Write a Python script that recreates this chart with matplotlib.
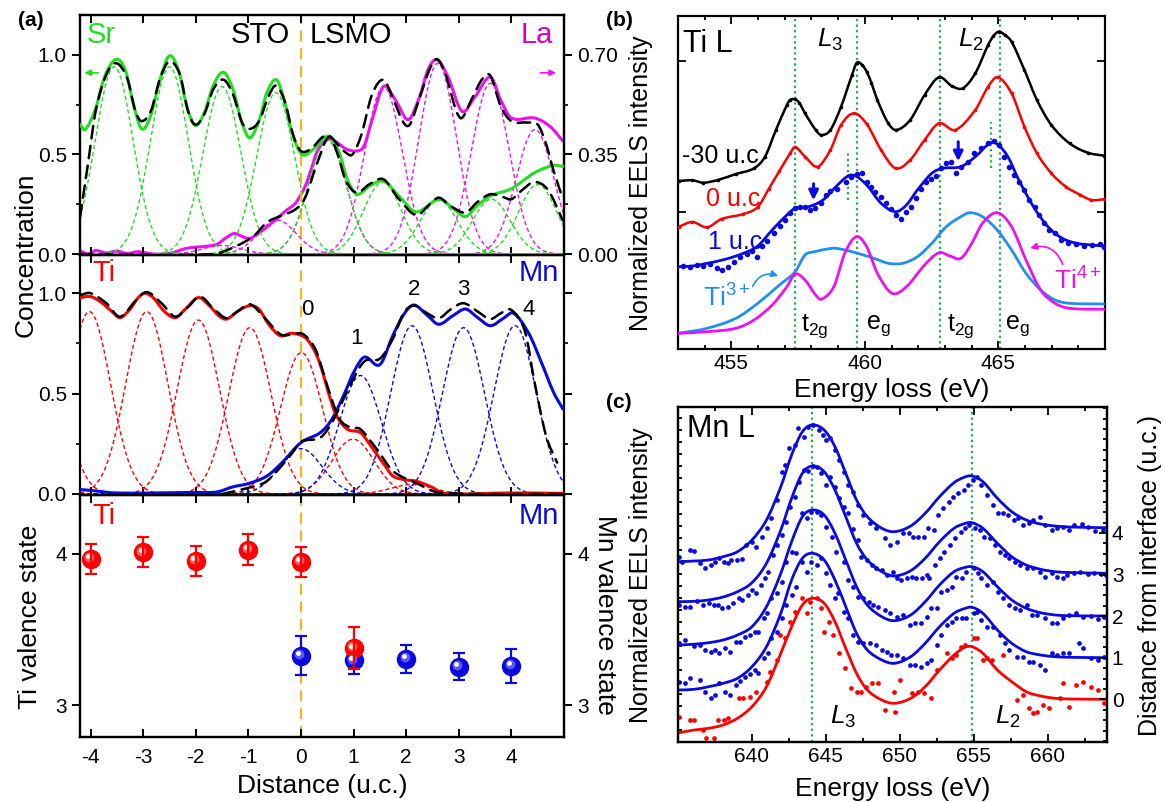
import numpy as np
import matplotlib
matplotlib.use('Agg')
import matplotlib.pyplot as plt
from matplotlib import transforms
from matplotlib.path import Path
from matplotlib.patches import FancyArrowPatch, PathPatch
from matplotlib.ticker import MultipleLocator, FixedLocator

plt.rcParams['font.family'] = ['Liberation Sans', 'DejaVu Sans']
plt.rcParams['axes.unicode_minus'] = False
plt.rcParams['mathtext.fontset'] = 'custom'
plt.rcParams['mathtext.rm'] = 'Liberation Sans'
plt.rcParams['mathtext.it'] = 'Liberation Sans:italic'
plt.rcParams['axes.linewidth'] = 1.6

GREEN = '#22dd22'
MAGENTA = '#ee11ee'
RED = '#ff0000'
BLUE = '#0a0ae0'
CYAN = '#1e90f0'
ORANGE = '#f8b323'
VLINE = '#1fae4f'

# ---- (a) top: Sr / La concentration profiles ----
dist_sr = [-4.2, -4.1, -3.91, -3.73, -3.51, -3.33, -3.19, -3.03, -2.86, -2.68, -2.5, -2.32, -2.17, -2.01, -1.84,
           -1.66, -1.47, -1.29, -1.12, -0.97, -0.79, -0.65, -0.47, -0.32, -0.17, 0.02, 0.23, 0.53, 0.73, 0.88,
           1.06, 1.31, 1.57, 1.86, 2.19, 2.62, 2.91, 3.13, 3.35, 3.6, 4.0, 4.44, 4.8, 4.98]
sr_conc = [0.65, 0.625, 0.725, 0.892, 0.978, 0.917, 0.758, 0.628, 0.692, 0.875, 0.995, 0.917, 0.742, 0.645, 0.708,
           0.85, 0.912, 0.825, 0.658, 0.583, 0.675, 0.808, 0.875, 0.775, 0.608, 0.5, 0.525, 0.592, 0.508, 0.375,
           0.30, 0.342, 0.367, 0.292, 0.212, 0.275, 0.225, 0.188, 0.242, 0.292, 0.328, 0.408, 0.445, 0.44]

dist_la = [-4.2, -4.05, -3.9, -3.7, -3.5, -3.3, -3.1, -2.8, -2.5, -2.17, -1.77, -1.59, -1.4, -1.26, -1.1,
           -0.97, -0.75, -0.5, -0.3, -0.1, 0.08, 0.2, 0.3, 0.42, 0.55, 0.7, 0.85, 1.06, 1.2, 1.35,
           1.57, 1.8, 2.04, 2.25, 2.42, 2.59, 2.8, 3.06, 3.3, 3.6, 3.8, 4.0, 4.44, 4.73, 4.98]
la_conc = [0.012, 0.0, 0.012, 0.004, 0.010, 0.002, 0.008, 0.0, 0.002, 0.02, 0.028, 0.035, 0.06, 0.072, 0.06,
           0.055, 0.08, 0.117, 0.15, 0.18, 0.238, 0.30, 0.357, 0.39, 0.405, 0.39, 0.37, 0.362, 0.38, 0.47,
           0.589, 0.54, 0.472, 0.55, 0.65, 0.683, 0.62, 0.502, 0.55, 0.622, 0.54, 0.478, 0.478, 0.449, 0.397]

dist_fit_hi = [-4.2, -4.05, -3.9, -3.7, -3.51, -3.3, -3.15, -3.03, -2.85, -2.68, -2.5, -2.3, -2.15, -2.01, -1.84,
               -1.66, -1.47, -1.29, -1.12, -0.97, -0.79, -0.62, -0.47, -0.3, -0.15, 0.0, 0.2, 0.4, 0.53, 0.7,
               0.85, 0.98, 1.15, 1.35, 1.57, 1.75, 1.95, 2.07, 2.25, 2.45, 2.59, 2.75, 2.95, 3.06, 3.25,
               3.45, 3.6, 3.8, 4.0, 4.3, 4.5, 4.65, 4.8, 4.98]
fit_hi = [0.183, 0.45, 0.72, 0.9, 0.958, 0.88, 0.72, 0.667, 0.72, 0.88, 0.967, 0.9, 0.72, 0.65, 0.70,
          0.83, 0.875, 0.80, 0.66, 0.628, 0.67, 0.79, 0.845, 0.76, 0.6, 0.517, 0.53, 0.585, 0.595, 0.55,
          0.51, 0.50, 0.6, 0.8, 0.875, 0.78, 0.66, 0.65, 0.78, 0.93, 0.978, 0.9, 0.72, 0.683, 0.78,
          0.88, 0.895, 0.74, 0.667, 0.66, 0.65, 0.56, 0.42, 0.275]
dist_fit_lo = [-4.2, -1.66, -1.23, -0.9, -0.65, -0.4, -0.1, 0.08, 0.3, 0.53, 0.7, 0.85, 1.06, 1.3, 1.57,
               1.85, 2.19, 2.45, 2.62, 2.85, 3.13, 3.35, 3.6, 3.85, 4.0, 4.2, 4.44, 4.7, 4.98]
fit_lo = [0.0, 0.0, 0.04, 0.09, 0.158, 0.19, 0.225, 0.283, 0.45, 0.588, 0.50, 0.37, 0.308, 0.35, 0.375,
          0.28, 0.195, 0.25, 0.283, 0.24, 0.208, 0.26, 0.30, 0.285, 0.275, 0.32, 0.362, 0.32, 0.167]

# gaussian components per unit cell: centre (u.c.), height
sr_peak_pos = [-3.55, -2.5, -1.5, -0.48, 0.5, 1.55, 2.62, 3.62, 4.5]
sr_peak_amp = [0.94, 0.94, 0.84, 0.81, 0.575, 0.36, 0.27, 0.275, 0.35]
la_peak_pos = [-1.5, -0.45, 0.5, 1.57, 2.6, 3.6, 4.45]
la_peak_amp = [0.03, 0.119, 0.40, 0.588, 0.67, 0.60, 0.4375]
width_top = 0.36

# ---- (a) middle: Ti / Mn ----
dist_ti_prof = [-4.2, -4.0, -3.8, -3.6, -3.44, -3.25, -3.1, -2.97, -2.8, -2.6, -2.39, -2.2, -1.95, -1.75, -1.55,
                -1.41, -1.2, -0.97, -0.8, -0.6, -0.39, -0.2, -0.03, 0.1, 0.2, 0.3, 0.42, 0.52, 0.66, 0.88,
                1.13, 1.3, 1.42, 1.6, 1.75, 2.0, 2.19, 2.48, 2.69, 3.0, 4.0, 4.98]
ti_conc = [0.978, 0.983, 0.955, 0.91, 0.878, 0.92, 0.975, 1.0, 0.975, 0.91, 0.878, 0.92, 0.978, 0.94, 0.885,
           0.871, 0.91, 0.938, 0.92, 0.84, 0.788, 0.80, 0.793, 0.775, 0.74, 0.69, 0.60, 0.507, 0.398, 0.323,
           0.306, 0.25, 0.206, 0.14, 0.089, 0.07, 0.064, 0.035, 0.005, 0.0, 0.005, 0.003]
dist_mn_prof = [-4.2, -4.0, -3.5, -2.0, -1.6, -1.3, -1.0, -0.65, -0.36, 0.0, 0.37, 0.59, 0.81, 1.02, 1.21,
                1.5, 1.75, 1.97, 2.15, 2.4, 2.62, 2.9, 3.13, 3.35, 3.6, 3.85, 4.04, 4.33, 4.58, 4.8, 4.98]
mn_conc = [0.022, 0.018, 0.005, 0.008, 0.01, 0.035, 0.052, 0.089, 0.156, 0.256, 0.306, 0.373, 0.49, 0.615, 0.682,
           0.644, 0.791, 0.9, 0.941, 0.89, 0.845, 0.89, 0.921, 0.88, 0.838, 0.875, 0.9, 0.8, 0.649, 0.507, 0.423]

dist_fit_ti = [-4.2, -4.0, -3.7, -3.44, -3.15, -2.93, -2.65, -2.39, -2.15, -1.92, -1.65, -1.41, -1.2, -0.97, -0.7,
               -0.39, -0.15, 0.01, 0.15, 0.3, 0.52, 0.73, 0.95, 1.13, 1.45, 1.75, 2.19, 2.62, 4.98]
fit_ti = [0.99, 1.0, 0.95, 0.883, 0.96, 1.005, 0.95, 0.883, 0.93, 0.983, 0.92, 0.875, 0.91, 0.945, 0.88,
          0.795, 0.795, 0.80, 0.77, 0.706, 0.523, 0.375, 0.33, 0.323, 0.22, 0.114, 0.055, 0.008, 0.0]
dist_fit_mn = [-1.5, -1.01, -0.65, -0.21, 0.0, 0.37, 0.59, 0.81, 1.1, 1.24, 1.5, 1.75, 1.95, 2.15, 2.4,
               2.62, 2.85, 3.09, 3.35, 3.6, 3.8, 4.0, 4.26, 4.44, 4.66, 4.87]
fit_mn = [0.0, 0.03, 0.064, 0.189, 0.259, 0.281, 0.356, 0.473, 0.624, 0.666, 0.674, 0.774, 0.9, 0.938, 0.9,
          0.875, 0.92, 0.95, 0.91, 0.871, 0.9, 0.916, 0.808, 0.557, 0.289, 0.156]

ti_peak_pos = [-4.95, -4.02, -2.93, -1.95, -0.97, 0.01, 0.99, 2.11]
ti_peak_amp = [0.9, 0.908, 0.908, 0.866, 0.828, 0.704, 0.273, 0.047]
mn_peak_pos = [0.0, 1.13, 2.11, 3.09, 4.07]
mn_peak_amp = [0.226, 0.59, 0.838, 0.828, 0.838]
width_mid = 0.4

# ---- (a) bottom: valence states ----
ti_uc = [-4, -3, -2, -1, 0, 1]
ti_valence = [3.967, 4.011, 3.956, 4.029, 3.949, 3.378]
ti_err = [0.10, 0.10, 0.10, 0.10, 0.10, 0.14]
mn_uc = [0, 1, 2, 3, 4]
mn_valence = [3.327, 3.296, 3.307, 3.256, 3.26]
mn_err = [0.13, 0.09, 0.093, 0.09, 0.11]

# ---- (b) Ti L edge ----
ti_e_black = [453.03, 453.54, 453.95, 454.49, 455.17, 455.85, 456.26, 456.67, 457.08, 457.2, 457.39, 457.55, 457.76,
              458.16, 458.37, 458.71, 459.11, 459.52, 459.7, 459.9, 460.07, 460.25, 460.47, 460.88, 461.18, 461.7,
              462.24, 462.78, 463.26, 463.67, 464.14, 464.62, 464.82, 465.02, 465.25, 465.5, 465.98, 466.45,
              466.99, 467.67, 468.35, 468.96]
ti_black = [1.68, 1.687, 1.663, 1.69, 1.75, 1.807, 1.923, 2.19, 2.44, 2.49, 2.497, 2.46, 2.357,
            2.19, 2.14, 2.19, 2.423, 2.74, 2.863, 2.84, 2.773, 2.66, 2.49, 2.257, 2.19, 2.29,
            2.54, 2.717, 2.63, 2.607, 2.757, 3.04, 3.13, 3.173, 3.14, 3.073, 2.79, 2.49,
            2.24, 2.057, 1.963, 1.933]
ti_e_red = [453.03, 453.54, 454.09, 454.63, 455.45, 455.99, 456.4, 456.8, 457.21, 457.39, 457.76, 458.23, 458.71,
            459.11, 459.59, 460.07, 460.61, 461.15, 461.7, 462.24, 462.78, 463.39, 464.14, 464.62, 464.98, 465.5,
            465.98, 466.45, 466.99, 467.53, 468.08, 468.49, 468.96]
ti_red = [1.223, 1.27, 1.217, 1.30, 1.35, 1.42, 1.6, 1.78, 1.96, 2.02, 1.923, 1.823, 1.99,
          2.24, 2.357, 2.25, 1.99, 1.807, 1.89, 2.09, 2.257, 2.19, 2.39, 2.623, 2.717, 2.557,
          2.223, 1.957, 1.757, 1.623, 1.54, 1.49, 1.497]
ti_e_blue = [453.03, 453.54, 454.09, 454.77, 455.45, 455.99, 456.53, 457.08, 457.39, 457.89, 458.43, 458.98, 459.39,
             459.66, 460.07, 460.61, 461.15, 461.56, 461.97, 462.51, 462.92, 463.6, 464.14, 464.68, 464.96, 465.36,
             465.77, 466.32, 466.86, 467.4, 467.94, 468.49, 468.96]
ti_blue = [0.823, 0.83, 0.857, 0.897, 0.957, 1.03, 1.19, 1.34, 1.407, 1.423, 1.49, 1.64, 1.733,
           1.73, 1.64, 1.457, 1.373, 1.44, 1.59, 1.757, 1.807, 1.823, 1.923, 2.057, 2.05, 1.923,
           1.69, 1.423, 1.223, 1.107, 1.057, 1.04, 1.03]
ti_e_blue_pts = [453.2, 453.45, 453.7, 453.95, 454.2, 454.45, 454.64, 454.89, 455.08, 455.33, 455.58, 455.77, 455.96,
                 456.15, 456.33, 456.58, 456.83, 457.02, 457.21, 457.4, 457.59, 457.77, 457.96, 458.15, 458.34,
                 458.53, 458.71, 458.96, 459.28, 459.47, 459.72, 459.9, 460.09, 460.22, 460.4, 460.59, 460.78,
                 460.97, 461.16, 461.34, 461.53, 461.72, 461.91, 462.1, 462.28, 462.47, 462.66, 462.85, 463.04,
                 463.22, 463.41, 463.6, 463.85, 464.1, 464.35, 464.6, 464.85, 465.04, 465.23, 465.42, 465.6,
                 465.79, 465.98, 466.17, 466.36, 466.54, 466.73, 466.92, 467.11, 467.36, 467.61, 467.9, 468.2,
                 468.5, 468.8, 468.98]
ti_blue_pts = [0.833, 0.823, 0.84, 0.83, 0.85, 0.807, 0.79, 0.823, 0.873, 0.917, 0.95, 0.983, 0.923,
               1.03, 1.083, 1.157, 1.23, 1.29, 1.357, 1.407, 1.417, 1.417, 1.39, 1.407, 1.463,
               1.54, 1.583, 1.597, 1.673, 1.723, 1.75, 1.763, 1.673, 1.623, 1.573, 1.517, 1.457,
               1.397, 1.34, 1.297, 1.373, 1.417, 1.507, 1.597, 1.673, 1.697, 1.73, 1.807, 1.857,
               1.873, 1.757, 1.823, 1.873, 1.957, 2.007, 2.057, 2.083, 2.04, 1.923, 1.823, 1.74,
               1.673, 1.59, 1.49, 1.423, 1.34, 1.257, 1.19, 1.157, 1.09, 1.057, 1.05, 1.03,
               1.04, 1.05, 1.02]
ti3_e = [453.03, 454.09, 455.17, 455.99, 456.8, 457.39, 457.76, 458.16, 458.6, 458.91, 459.52, 460.34, 460.88,
         461.42, 461.97, 462.51, 463.05, 463.6, 463.94, 464.41, 464.96, 465.5, 466.04, 466.59, 467.13, 467.67,
         468.96]
ti3_ref = [0.157, 0.207, 0.307, 0.457, 0.64, 0.773, 0.94, 0.975, 1.0, 1.007, 0.973, 0.907, 0.857,
           0.857, 0.923, 1.057, 1.223, 1.323, 1.363, 1.323, 1.19, 0.99, 0.757, 0.59, 0.49, 0.457,
           0.45]
ti4_e = [453.03, 454.09, 455.17, 455.85, 456.53, 457.08, 457.39, 457.76, 458.16, 458.37, 458.84, 459.25, 459.68,
         460.07, 460.47, 461.02, 461.56, 462.24, 462.78, 463.19, 463.6, 464.01, 464.41, 464.96, 465.5, 466.04,
         466.59, 467.13, 467.67, 468.96]
ti4_ref = [0.157, 0.173, 0.207, 0.29, 0.44, 0.623, 0.75, 0.69, 0.54, 0.497, 0.623, 0.957, 1.123,
           1.023, 0.757, 0.557, 0.623, 0.84, 0.963, 0.93, 0.907, 1.057, 1.257, 1.363, 1.223, 0.89,
           0.59, 0.457, 0.407, 0.397]

# ---- (c) Mn L edge, fits for 0..4 u.c. ----
mn_e = [635.07, 636.1, 637.07, 638.05, 639.02, 640.0, 640.98, 641.95, 642.68, 643.41, 644.08, 644.88, 645.61,
        646.34, 647.07, 647.8, 648.78, 649.63, 650.73, 651.71, 652.68, 653.66, 654.39, 654.88, 655.61, 656.59,
        657.56, 658.54, 659.51, 660.49, 661.46, 664.0]
mn_fit_0 = [0.093, 0.12, 0.137, 0.17, 0.237, 0.353, 0.553, 0.887, 1.153, 1.37, 1.437, 1.387, 1.203,
            0.937, 0.687, 0.52, 0.42, 0.387, 0.437, 0.553, 0.72, 0.87, 0.947, 0.953, 0.887, 0.72,
            0.603, 0.503, 0.46, 0.437, 0.43, 0.427]
mn_fit_1 = [0.52, 0.527, 0.553, 0.587, 0.637, 0.753, 0.953, 1.287, 1.62, 1.837, 1.887, 1.82, 1.62,
            1.353, 1.087, 0.92, 0.82, 0.787, 0.853, 0.987, 1.153, 1.287, 1.335, 1.347, 1.287, 1.12,
            0.987, 0.903, 0.87, 0.853, 0.847, 0.843]
mn_fit_2 = [0.97, 0.978, 0.993, 1.02, 1.07, 1.153, 1.353, 1.687, 2.003, 2.253, 2.32, 2.27, 2.087,
            1.82, 1.553, 1.37, 1.253, 1.213, 1.27, 1.403, 1.57, 1.703, 1.745, 1.753, 1.703, 1.553,
            1.42, 1.337, 1.293, 1.27, 1.263, 1.26]
mn_fit_3 = [1.403, 1.407, 1.42, 1.45, 1.503, 1.593, 1.787, 2.12, 2.437, 2.687, 2.76, 2.703, 2.52,
            2.253, 1.987, 1.82, 1.703, 1.66, 1.713, 1.837, 2.003, 2.137, 2.185, 2.193, 2.137, 1.987,
            1.853, 1.77, 1.727, 1.703, 1.695, 1.687]
mn_fit_4 = [1.803, 1.81, 1.82, 1.853, 1.903, 2.02, 2.22, 2.553, 2.87, 3.103, 3.17, 3.12, 2.953,
            2.687, 2.42, 2.253, 2.137, 2.103, 2.16, 2.287, 2.453, 2.593, 2.65, 2.66, 2.603, 2.437,
            2.303, 2.22, 2.18, 2.16, 2.15, 2.143]

dots_e_0 = [635.1, 635.8, 636.1, 636.7, 636.9, 637.4, 637.7, 638.1, 638.4, 639.1, 639.4, 639.9, 640.3, 641.0,
            641.2, 641.7, 641.9, 642.2, 642.6, 642.9, 643.4, 643.7, 643.9, 644.4, 644.7, 644.9, 645.2, 645.5,
            645.9, 646.3, 646.7, 647.1, 647.4, 647.7, 648.1, 648.5, 649.0, 649.6, 649.7, 650.0, 650.8, 651.2,
            651.6, 652.1, 652.5, 653.2, 653.5, 653.8, 654.1, 654.4, 655.0, 655.2, 655.6, 655.9, 656.2, 657.0,
            657.9, 658.3, 658.7, 659.0, 659.3, 659.7, 660.1, 660.8, 661.0, 661.4, 661.9, 662.4, 662.9, 663.4,
            663.8]
dots_0 = [0.253, 0.22, 0.22, 0.12, 0.037, 0.037, 0.22, 0.22, 0.237, 0.437, 0.437, 0.453, 0.503, 0.603,
          0.703, 0.82, 1.07, 1.037, 1.203, 1.303, 1.437, 1.287, 1.403, 1.437, 1.337, 1.103, 1.203, 1.07,
          0.887, 0.737, 0.537, 0.503, 0.503, 0.553, 0.587, 0.587, 0.32, 0.503, 0.303, 0.62, 0.487, 0.503,
          0.487, 0.437, 0.72, 0.887, 0.837, 0.87, 0.953, 0.97, 1.037, 1.037, 0.82, 0.837, 0.82, 0.87,
          0.42, 0.47, 0.337, 0.287, 0.303, 0.37, 0.337, 0.437, 0.587, 0.353, 0.57, 0.603, 0.553, 0.52,
          0.387]
dots_e_1 = [635.1, 635.5, 635.8, 636.5, 636.8, 637.2, 637.5, 637.8, 638.2, 638.5, 638.9, 639.2, 639.5, 639.9,
            640.2, 640.4, 640.8, 641.1, 641.3, 641.7, 642.0, 642.3, 642.7, 643.0, 643.4, 643.7, 644.0, 644.4,
            644.7, 645.0, 645.3, 645.6, 645.8, 646.2, 646.5, 646.8, 647.2, 647.5, 648.0, 648.4, 648.8, 649.1,
            649.4, 649.8, 650.2, 650.7, 651.0, 651.4, 651.8, 652.1, 652.5, 652.8, 653.2, 653.5, 653.8, 654.2,
            654.5, 655.0, 655.2, 655.5, 655.9, 656.3, 656.8, 657.1, 657.4, 657.9, 658.3, 658.7, 659.0, 659.5,
            659.8, 660.3, 660.6, 661.0, 661.4, 662.1, 662.4, 662.9, 663.4, 663.8]
dots_1 = [0.603, 0.587, 0.637, 0.62, 0.503, 0.437, 0.47, 0.587, 0.503, 0.47, 0.57, 0.61, 0.653, 0.677,
          0.72, 0.687, 0.837, 0.887, 1.037, 1.103, 1.237, 1.37, 1.47, 1.553, 1.803, 1.703, 1.803, 1.77,
          1.837, 1.687, 1.57, 1.437, 1.487, 1.303, 1.237, 1.07, 1.003, 0.987, 0.987, 0.97, 0.92, 0.903,
          0.87, 0.87, 0.837, 0.77, 0.77, 0.753, 0.787, 0.82, 0.97, 1.07, 1.17, 1.203, 1.237, 1.237,
          1.237, 1.287, 1.303, 1.22, 1.153, 1.153, 1.07, 0.987, 0.92, 0.853, 0.853, 0.803, 0.803, 0.77,
          0.72, 0.887, 0.87, 0.887, 0.887, 0.987, 0.937, 0.837, 0.82, 0.853]
dots_e_2 = [635.1, 635.5, 636.1, 636.5, 636.8, 637.2, 637.5, 637.8, 638.2, 638.5, 638.9, 639.2, 639.5, 639.9,
            640.2, 640.4, 640.8, 641.0, 641.3, 641.7, 642.0, 642.3, 642.7, 643.0, 643.4, 643.7, 644.0, 644.4,
            644.7, 645.0, 645.4, 645.7, 646.2, 646.5, 646.8, 647.2, 647.5, 647.9, 648.2, 648.5, 649.0, 649.3,
            649.8, 650.2, 650.7, 651.0, 651.4, 651.8, 652.1, 652.5, 652.8, 653.2, 653.5, 653.8, 654.2, 654.5,
            655.0, 655.3, 655.5, 655.9, 656.3, 656.6, 657.0, 657.4, 657.8, 658.1, 658.6, 658.9, 659.3, 659.8,
            660.3, 660.6, 661.0, 661.4, 661.9, 662.4, 662.9, 663.4, 663.8]
dots_2 = [0.987, 1.02, 0.963, 0.97, 0.92, 0.903, 0.92, 0.887, 0.937, 0.903, 0.997, 1.003, 1.053, 1.07,
          1.103, 1.103, 1.237, 1.287, 1.437, 1.487, 1.603, 1.803, 1.903, 1.887, 2.287, 2.237, 2.303, 2.303,
          2.27, 2.153, 2.053, 1.903, 1.803, 1.62, 1.553, 1.453, 1.437, 1.403, 1.37, 1.353, 1.32, 1.287,
          1.253, 1.27, 1.17, 1.187, 1.187, 1.253, 1.337, 1.337, 1.503, 1.52, 1.553, 1.653, 1.637, 1.703,
          1.737, 1.687, 1.637, 1.57, 1.603, 1.503, 1.437, 1.37, 1.337, 1.32, 1.37, 1.27, 1.27, 1.237,
          1.187, 1.187, 1.237, 1.27, 1.29, 1.25, 1.26, 1.23, 1.25]
dots_e_3 = [635.1, 635.5, 635.8, 636.3, 636.7, 637.1, 637.4, 637.7, 638.0, 638.4, 638.7, 639.1, 639.3, 639.7,
            640.0, 640.3, 640.6, 640.9, 641.1, 641.4, 641.7, 642.0, 642.3, 642.6, 642.9, 643.2, 643.5, 643.8,
            644.1, 644.4, 644.7, 645.0, 645.3, 645.6, 645.9, 646.2, 646.5, 646.8, 647.2, 647.4, 647.75, 648.1,
            648.4, 648.8, 649.1, 649.55, 649.8, 650.1, 650.45, 650.8, 651.1, 651.5, 651.8, 652.0, 652.4, 652.7,
            653.0, 653.4, 653.7, 654.1, 654.4, 654.7, 655.1, 655.4, 655.7, 656.1, 656.4, 656.8, 657.1, 657.4,
            657.8, 658.1, 658.6, 659.0, 659.5, 659.8, 660.3, 660.6, 661.0, 661.3, 661.8, 662.2, 662.7, 663.1,
            663.6, 663.9]
dots_3 = [1.37, 1.355, 1.355, 1.41, 1.37, 1.387, 1.37, 1.37, 1.337, 1.353, 1.387, 1.437, 1.42, 1.47,
          1.52, 1.487, 1.57, 1.637, 1.703, 1.87, 1.97, 2.07, 2.2, 2.35, 2.45, 2.6, 2.72, 2.71,
          2.76, 2.753, 2.687, 2.57, 2.653, 2.553, 2.437, 2.353, 2.287, 2.13, 2.02, 1.853, 1.82, 1.77,
          1.737, 1.72, 1.67, 1.703, 1.637, 1.62, 1.637, 1.653, 1.637, 1.643, 1.67, 1.637, 1.77, 1.837,
          1.903, 1.97, 2.037, 2.103, 2.137, 2.17, 2.137, 2.12, 2.053, 2.037, 1.97, 1.903, 1.87, 1.837,
          1.803, 1.77, 1.737, 1.737, 1.703, 1.653, 1.687, 1.653, 1.637, 1.67, 1.69, 1.70, 1.68, 1.69,
          1.68, 1.67]
dots_e_4 = [635.1, 635.3, 635.8, 636.1, 636.5, 636.8, 637.2, 637.5, 637.8, 638.1, 638.4, 638.6, 639.0, 639.3,
            639.6, 640.0, 640.3, 640.7, 641.0, 641.3, 641.7, 642.0, 642.2, 642.5, 642.9, 643.1, 643.5, 643.8,
            644.1, 644.5, 644.8, 645.0, 645.3, 645.6, 645.9, 646.2, 646.5, 646.8, 647.2, 647.5, 648.0, 648.4,
            649.0, 649.3, 649.8, 650.2, 650.6, 650.9, 651.2, 651.6, 651.9, 652.3, 652.6, 652.9, 653.3, 653.6,
            653.9, 654.3, 654.6, 654.96, 655.2, 655.5, 655.9, 656.3, 656.6, 657.0, 657.3, 657.7, 658.0, 658.3,
            658.7, 659.0, 659.5, 659.8, 660.3, 660.6, 661.0, 661.4, 661.8, 662.3, 662.7, 663.2, 663.7]
dots_4 = [1.853, 1.803, 1.92, 1.91, 1.787, 1.737, 1.77, 1.803, 1.837, 1.803, 1.787, 1.82, 1.82, 1.83,
          1.97, 1.997, 1.953, 2.053, 2.137, 2.237, 2.42, 2.70, 2.77, 2.937, 2.97, 3.137, 3.053, 3.153,
          3.17, 3.12, 3.07, 3.02, 3.037, 2.92, 2.82, 2.703, 2.57, 2.503, 2.37, 2.27, 2.187, 2.137,
          2.037, 1.97, 2.003, 2.087, 2.087, 2.053, 2.053, 2.053, 2.137, 2.12, 2.27, 2.337, 2.403, 2.453,
          2.487, 2.52, 2.57, 2.62, 2.653, 2.57, 2.47, 2.37, 2.287, 2.287, 2.27, 2.22, 2.237, 2.17,
          2.187, 2.22, 2.253, 2.17, 2.12, 2.137, 2.153, 2.12, 2.17, 2.18, 2.15, 2.11, 2.12]
mn_layers = [0, 1, 2, 3, 4]
mn_baseline = [0.427, 0.843, 1.26, 1.687, 2.143]


def gauss(x, c, a, w):
    return a * np.exp(-(x - c) ** 2 / (2 * w ** 2))


def smooth_line(ax, x, y, color, lw, ls='-', zorder=3):
    # cubic Hermite segments through the listed points (the curve passes through every point)
    x = np.asarray(x, float)
    y = np.asarray(y, float)
    n = len(x)
    m = np.empty(n)
    m[1:-1] = (y[2:] - y[:-2]) / (x[2:] - x[:-2])
    m[0] = (y[1] - y[0]) / (x[1] - x[0])
    m[-1] = (y[-1] - y[-2]) / (x[-1] - x[-2])
    verts = [(x[0], y[0])]
    codes = [Path.MOVETO]
    for i in range(n - 1):
        d = (x[i + 1] - x[i]) / 3
        verts += [(x[i] + d, y[i] + m[i] * d), (x[i + 1] - d, y[i + 1] - m[i + 1] * d), (x[i + 1], y[i + 1])]
        codes += [Path.CURVE4] * 3
    ax.add_patch(PathPatch(Path(verts, codes), fill=False, edgecolor=color, lw=lw, ls=ls,
                           capstyle='round', joinstyle='round', zorder=zorder))


def sphere(ax, x, y, color, shade):
    ax.plot(x, y, 'o', ms=13, color=color, mec=color, zorder=5)
    off1 = transforms.offset_copy(ax.transData, fig=ax.figure, x=-1.2, y=1.2, units='points')
    ax.plot(x, y, 'o', ms=7, color=shade, mec='none', alpha=0.8, transform=off1, zorder=6)
    off2 = transforms.offset_copy(ax.transData, fig=ax.figure, x=-1.8, y=1.8, units='points')
    ax.plot(x, y, 'o', ms=3.5, color='white', mec='none', transform=off2, zorder=7)


W, H = 1165, 802
fig = plt.figure(figsize=(W / 100, H / 100), dpi=100)


def px_axes(l, t, r, b):
    return fig.add_axes([l / W, 1 - b / H, (r - l) / W, (b - t) / H])


ax1 = px_axes(80, 15, 564, 255)
ax2 = px_axes(80, 255, 564, 495)
ax3 = px_axes(80, 495, 564, 737)
axb = px_axes(678, 16, 1105, 349)
axc = px_axes(678, 407, 1107, 742)

TS = 15
xs = np.linspace(-4.2, 5.0, 500)
dash_thin = (0, (3, 2))
dash_fit = (0, (5, 3))

# ---------- (a) top ----------
ax1r = ax1.twinx()
ax1.set_zorder(ax1r.get_zorder() + 1)
ax1.patch.set_visible(False)
for c, a in zip(la_peak_pos, la_peak_amp):
    ax1r.plot(xs, gauss(xs, c, a, width_top), color=MAGENTA, lw=1.0, ls=dash_thin)
smooth_line(ax1r, dist_la, la_conc, MAGENTA, 2.2)
for c, a in zip(sr_peak_pos, sr_peak_amp):
    ax1.plot(xs, gauss(xs, c, a, width_top), color=GREEN, lw=1.0, ls=dash_thin)
smooth_line(ax1, dist_sr, sr_conc, GREEN, 2.2)
smooth_line(ax1, dist_fit_hi, fit_hi, 'k', 1.8, dash_fit, 4)
smooth_line(ax1, dist_fit_lo, fit_lo, 'k', 1.8, dash_fit, 4)
ax1.set_ylim(-0.005, 1.2)
ax1r.set_ylim(-0.005 * 0.7, 1.2 * 0.7)
ax1.set_yticks([0, 0.5, 1.0], ['0.0', '0.5', '1.0'])
ax1.yaxis.set_minor_locator(FixedLocator([0.25, 0.75]))
ax1r.set_yticks([0, 0.35, 0.70], ['0.00', '0.35', '0.70'])
ax1r.yaxis.set_minor_locator(FixedLocator([0.175, 0.525]))
ax1.text(-4.08, 1.1, 'Sr', color=GREEN, fontsize=21, va='center')
ax1.text(-0.2, 1.1, 'STO', color='k', fontsize=21, va='center', ha='right')
ax1.text(0.17, 1.1, 'LSMO', color='k', fontsize=21, va='center', ha='left')
ax1.text(4.8, 1.1, 'La', color='#d600c8', fontsize=21, va='center', ha='right')
ax1.annotate('', xy=(-4.17, 0.91), xytext=(-3.8, 0.91),
             arrowprops=dict(arrowstyle='-|>', color=GREEN, lw=1.2, mutation_scale=9))
ax1.annotate('', xy=(4.9, 0.91), xytext=(4.5, 0.91),
             arrowprops=dict(arrowstyle='-|>', color=MAGENTA, lw=1.2, mutation_scale=9))

# ---------- (a) middle ----------
for c, a in zip(ti_peak_pos, ti_peak_amp):
    ax2.plot(xs, gauss(xs, c, a, width_mid), color=RED, lw=1.0, ls=dash_thin)
for c, a in zip(mn_peak_pos, mn_peak_amp):
    ax2.plot(xs, gauss(xs, c, a, width_mid), color=BLUE, lw=1.0, ls=dash_thin)
smooth_line(ax2, dist_mn_prof, mn_conc, BLUE, 2.2)
smooth_line(ax2, dist_ti_prof, ti_conc, RED, 2.2)
smooth_line(ax2, dist_fit_ti, fit_ti, 'k', 1.8, dash_fit, 4)
smooth_line(ax2, dist_fit_mn, fit_mn, 'k', 1.8, dash_fit, 4)
ax2.set_ylim(-0.005, 1.19)
ax2.set_yticks([0, 0.5, 1.0], ['0.0', '0.5', '1.0'])
ax2.yaxis.set_minor_locator(FixedLocator([0.25, 0.75]))
ax2.tick_params(axis='y', which='both', right=True)
ax2.text(-3.97, 1.1, 'Ti', color=RED, fontsize=21, va='center')
ax2.text(4.9, 1.1, 'Mn', color=BLUE, fontsize=21, va='center', ha='right')
for lab, lx, ly in zip(['0', '1', '2', '3', '4'], [0.12, 1.06, 2.15, 3.09, 4.33],
                       [0.917, 0.774, 1.017, 1.017, 0.917]):
    ax2.text(lx, ly, lab, fontsize=16, ha='center', va='center')

# ---------- (a) bottom ----------
ax3r = ax3.twinx()
ax3.set_zorder(ax3r.get_zorder() + 1)
ax3.patch.set_visible(False)
ax3.errorbar(mn_uc, mn_valence, yerr=mn_err, fmt='none', ecolor=BLUE, elinewidth=1.6, capsize=4, capthick=1.6,
             zorder=4)
sphere(ax3, mn_uc, mn_valence, BLUE, '#6f6ff5')
ax3.errorbar(ti_uc, ti_valence, yerr=ti_err, fmt='none', ecolor=RED, elinewidth=1.6, capsize=4, capthick=1.6,
             zorder=8)
for xv, yv in zip(ti_uc, ti_valence):
    sphere(ax3, [xv], [yv], RED, '#ff7a7a')
ax3.set_ylim(2.79, 4.39)
ax3r.set_ylim(2.79, 4.39)
ax3.set_yticks([3, 4], ['3', '4'])
ax3r.set_yticks([3, 4], ['3', '4'])
ax3.text(-3.97, 4.25, 'Ti', color=RED, fontsize=21, va='center')
ax3.text(4.9, 4.25, 'Mn', color=BLUE, fontsize=21, va='center', ha='right')
ax3.set_xlabel('Distance (u.c.)', fontsize=19, labelpad=5)

for ax in (ax1, ax2, ax3):
    ax.axvline(0, color=ORANGE, lw=1.6, ls=(0, (5, 3)), zorder=1)
    ax.set_xlim(-4.2, 5.0)
    ax.set_xticks(range(-4, 5))
    ax.tick_params(axis='x', direction='in', top=True, bottom=True, length=6, width=1.4, pad=8)
    ax.tick_params(axis='y', which='major', direction='out', length=6, width=1.4, labelsize=TS)
    ax.tick_params(axis='y', which='minor', direction='out', length=3, width=1.2)
for ax in (ax1r, ax3r):
    ax.tick_params(axis='y', which='major', direction='out', length=6, width=1.4, labelsize=TS)
    ax.tick_params(axis='y', which='minor', direction='out', length=3, width=1.2)
ax1.tick_params(axis='x', labelbottom=False)
ax2.tick_params(axis='x', labelbottom=False)
ax3.tick_params(axis='x', labelsize=TS)

fig.text(26 / W, 1 - 255 / H, 'Concentration', rotation=90, fontsize=19, ha='center', va='center')
fig.text(30 / W, 1 - 617 / H, 'Ti valence state', rotation=90, fontsize=19, ha='center', va='center')
fig.text(605 / W, 1 - 615 / H, 'Mn valence state', rotation=270, fontsize=19, ha='center', va='center')
fig.text(18 / W, 1 - 20 / H, '(a)', fontsize=15, fontweight='bold', va='center')
fig.text(606 / W, 1 - 20 / H, '(b)', fontsize=15, fontweight='bold', va='center')
fig.text(606 / W, 1 - 402 / H, '(c)', fontsize=15, fontweight='bold', va='center')

# ---------- (b) Ti L ----------
for ev in (457.4, 459.72, 462.8, 465.05):
    axb.axvline(ev, color=VLINE, lw=1.6, ls=(0, (1, 1.5)), zorder=1)
axb.plot([459.36, 459.36], [1.49, 1.97], color=VLINE, lw=1.6, ls=(0, (1, 1.5)))
axb.plot([464.73, 464.73], [1.81, 2.27], color=VLINE, lw=1.6, ls=(0, (1, 1.5)))
smooth_line(axb, ti3_e, ti3_ref, CYAN, 2.0)
smooth_line(axb, ti4_e, ti4_ref, MAGENTA, 2.0)
axb.plot(ti_e_black, ti_black, 'o', color='k', ms=1.6, zorder=3)
smooth_line(axb, ti_e_black, ti_black, 'k', 1.8)
axb.plot(ti_e_red, ti_red, 'o', color=RED, ms=1.6, zorder=3)
smooth_line(axb, ti_e_red, ti_red, RED, 1.8)
axb.plot(ti_e_blue_pts, ti_blue_pts, 'o', color=BLUE, ms=3, zorder=3)
smooth_line(axb, ti_e_blue, ti_blue, BLUE, 2.0)
axb.set_xlim(453, 469)
axb.set_ylim(0, 3.33)
axb.set_xticks([455, 460, 465])
axb.xaxis.set_minor_locator(MultipleLocator(1))
axb.set_yticks([1.37, 2.88], ['', ''])
axb.tick_params(which='both', direction='in', top=True, right=True, width=1.3, labelsize=TS)
axb.tick_params(which='major', length=6)
axb.tick_params(which='minor', length=3)
axb.set_xlabel('Energy loss (eV)', fontsize=19, labelpad=4)
fig.text(641 / W, 1 - 183 / H, 'Normalized EELS intensity', rotation=90, fontsize=18, ha='center', va='center')
axb.text(453.2, 3.2, 'Ti L', fontsize=22, va='top')
axb.text(458.2, 3.09, r'$\mathit{L}_{\mathit{3}}$', fontsize=19, va='center')
axb.text(463.5, 3.09, r'$\mathit{L}_{\mathit{2}}$', fontsize=19, va='center')
axb.text(453.15, 1.93, '-30 u.c', fontsize=18, va='center')
axb.text(454.05, 1.5, '0 u.c', fontsize=18, va='center', color=RED)
axb.text(454.13, 1.07, '1 u.c', fontsize=18, va='center', color=BLUE)
axb.text(453.95, 0.51, r'Ti$^{3+}$', fontsize=19, va='center', color=CYAN)
axb.text(467.1, 0.68, r'Ti$^{4+}$', fontsize=19, va='center', color=MAGENTA)
for lx, lab in zip([457.6, 460.03, 463.07, 465.25],
                   [r't$_\mathrm{2g}$', r'e$_\mathrm{g}$', r't$_\mathrm{2g}$', r'e$_\mathrm{g}$']):
    axb.text(lx, 0.23, lab, fontsize=18, va='center')
axb.annotate('', xy=(458.08, 1.46), xytext=(458.08, 1.68),
             arrowprops=dict(arrowstyle='-|>', color=BLUE, lw=2.2, mutation_scale=14))
axb.annotate('', xy=(463.5, 1.85), xytext=(463.5, 2.1),
             arrowprops=dict(arrowstyle='-|>', color=BLUE, lw=2.2, mutation_scale=14))
axb.add_patch(FancyArrowPatch((455.75, 0.6), (456.85, 0.72), connectionstyle='arc3,rad=-0.5',
                              arrowstyle='-|>', mutation_scale=10, color=CYAN, lw=1.2))
axb.add_patch(FancyArrowPatch((467.45, 0.82), (466.1, 1.0), connectionstyle='arc3,rad=0.5',
                              arrowstyle='-|>', mutation_scale=10, color=MAGENTA, lw=1.2))

# ---------- (c) Mn L ----------
for ev in (644.05, 654.88):
    axc.axvline(ev, color=VLINE, lw=1.6, ls=(0, (1, 1.5)), zorder=1)
fits = [mn_fit_0, mn_fit_1, mn_fit_2, mn_fit_3, mn_fit_4]
dot_e = [dots_e_0, dots_e_1, dots_e_2, dots_e_3, dots_e_4]
dot_y = [dots_0, dots_1, dots_2, dots_3, dots_4]
for k in mn_layers:
    col = RED if k == 0 else BLUE
    axc.plot(dot_e[k], dot_y[k], 'o', color=col, ms=3.4, mec='none', zorder=3)
    smooth_line(axc, mn_e, fits[k], col, 2.0)
axc.set_xlim(635, 664)
axc.set_ylim(0, 3.35)
axc.set_xticks([640, 645, 650, 655, 660])
axc.xaxis.set_minor_locator(MultipleLocator(2.5))
axc.set_yticks([])
axc.yaxis.set_minor_locator(MultipleLocator(0.12))
axc.tick_params(which='both', direction='in', top=True, width=1.3, labelsize=TS)
axc.tick_params(which='major', length=6)
axc.tick_params(which='minor', length=3)
axc.set_xlabel('Energy loss (eV)', fontsize=19, labelpad=8)
axcr = axc.twinx()
step = mn_baseline[1] - mn_baseline[0]
axcr.set_ylim((0 - mn_baseline[0]) / step, (3.35 - mn_baseline[0]) / step)
axcr.set_yticks(mn_layers, [str(k) for k in mn_layers])
axcr.yaxis.set_minor_locator(MultipleLocator(0.25))
axcr.tick_params(which='both', direction='in', width=1.3, labelsize=TS)
axcr.tick_params(which='major', length=6)
axcr.tick_params(which='minor', length=3)
fig.text(641 / W, 1 - 575 / H, 'Normalized EELS intensity', rotation=90, fontsize=18, ha='center', va='center')
fig.text(1150 / W, 1 - 575 / H, 'Distance from interface (u.c.)', rotation=90, fontsize=18,
         ha='center', va='center')
axc.text(635.6, 3.28, 'Mn L', fontsize=22, va='top')
axc.text(645.3, 0.25, r'$\mathit{L}_{\mathit{3}}$', fontsize=19, va='center')
axc.text(656.4, 0.25, r'$\mathit{L}_{\mathit{2}}$', fontsize=19, va='center')

fig.savefig('out.png', dpi=100)
